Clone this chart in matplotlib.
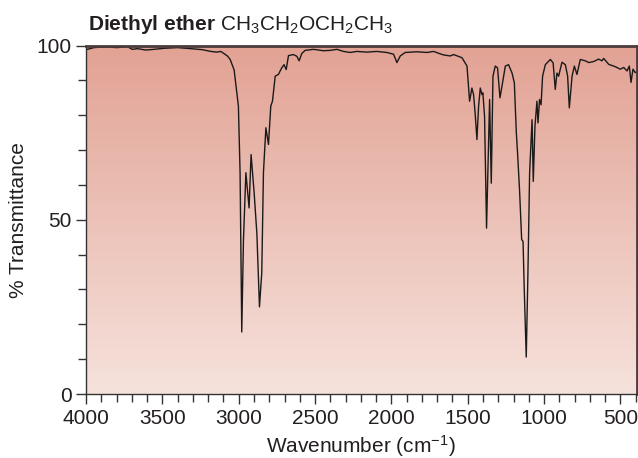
import numpy as np
import matplotlib
matplotlib.use('Agg')
import matplotlib.pyplot as plt
from matplotlib.colors import LinearSegmentedColormap
from matplotlib.ticker import MultipleLocator

# Espectro IR del dietil éter
wavenumber = [4000, 3991, 3948, 3882, 3795, 3729, 3697, 3664, 3609, 3554,
              3489, 3402, 3314, 3238, 3183, 3144, 3117, 3074, 3056, 3030,
              3002, 2991, 2980, 2969, 2953, 2932, 2919, 2899, 2881, 2864,
              2849, 2838, 2822, 2805, 2790, 2779, 2761, 2740, 2718, 2703,
              2689, 2674, 2642, 2619, 2604, 2587, 2565, 2510, 2445, 2401,
              2357, 2314, 2270, 2226, 2161, 2095, 2030, 1986, 1964, 1942,
              1910, 1833, 1767, 1724, 1680, 1659, 1615, 1593, 1538, 1505,
              1488, 1473, 1462, 1451, 1440, 1429, 1418, 1407, 1401, 1390,
              1377, 1357, 1346, 1335, 1320, 1305, 1289, 1276, 1254, 1233,
              1210, 1195, 1182, 1174, 1161, 1147, 1138, 1130, 1117, 1106,
              1095, 1079, 1071, 1060, 1047, 1040, 1030, 1020, 1010, 992,
              959, 941, 927, 916, 905, 883, 861, 846, 835, 817,
              802, 785, 763, 730, 708, 676, 643, 621, 610, 577,
              533, 501, 479, 457, 442, 431, 418, 403, 395]
transmittance = [99.0, 98.9, 99.4, 99.6, 99.4, 99.7, 98.9, 99.1, 98.7, 98.9,
                 99.2, 99.4, 99.1, 98.8, 98.3, 98.1, 98.3, 97.0, 96.0, 93.0,
                 82.6, 63.5, 17.8, 44.0, 63.5, 53.4, 68.7, 57.8, 46.0, 25.0,
                 34.8, 63.5, 76.4, 71.6, 82.6, 84.0, 91.2, 91.7, 93.6, 94.5,
                 93.1, 97.1, 97.4, 96.9, 95.6, 97.7, 98.6, 98.9, 98.5, 98.6,
                 98.9, 98.3, 98.0, 98.3, 98.1, 98.3, 98.0, 97.5, 95.1, 97.0,
                 98.0, 98.2, 98.0, 98.3, 97.6, 97.3, 97.0, 97.4, 96.5, 94.1,
                 84.0, 87.8, 85.9, 80.2, 73.0, 82.6, 87.8, 85.9, 86.4, 79.7,
                 47.6, 84.5, 60.5, 91.2, 94.1, 93.6, 85.0, 88.3, 94.1, 94.5,
                 92.1, 89.3, 75.0, 69.2, 58.6, 44.3, 43.8, 29.9, 10.6, 34.7,
                 63.4, 78.7, 61.0, 76.8, 84.0, 77.8, 84.5, 83.0, 91.2, 94.5,
                 96.0, 95.0, 87.4, 92.1, 91.2, 95.2, 94.5, 91.2, 82.1, 91.2,
                 94.1, 91.7, 96.0, 95.6, 95.1, 95.4, 96.1, 95.6, 96.3, 94.6,
                 93.9, 93.2, 93.7, 92.7, 94.1, 89.4, 93.2, 92.2, 92.4]

x_ticks = [4000, 3500, 3000, 2500, 2000, 1500, 1000, 500]
y_ticks = [0, 50, 100]

plt.rcParams['font.family'] = ['Liberation Sans', 'DejaVu Sans']
plt.rcParams['mathtext.fontset'] = 'custom'
plt.rcParams['mathtext.rm'] = 'Liberation Sans'
plt.rcParams['mathtext.it'] = 'Liberation Sans:italic'
plt.rcParams['mathtext.bf'] = 'Liberation Sans:bold'

texto = '#231f20'
x_min, x_max = 4000, 395

fig = plt.figure(figsize=(6.38, 4.58), dpi=100)
ax = fig.add_axes([86 / 638, 1 - 394 / 458, (636.5 - 86) / 638, (394 - 45.5) / 458])

# Fondo degradado salmón -> rosa claro
degradado = LinearSegmentedColormap.from_list('fondo', ['#f6e2dc', '#e2a294'])
ax.imshow(np.linspace(0, 1, 256).reshape(-1, 1), cmap=degradado, origin='lower',
          extent=(x_min, x_max, 0, 100), aspect='auto', zorder=0)

ax.plot(wavenumber, transmittance, color='#1a1a1a', lw=1.0, zorder=2)

ax.set_xlim(x_min, x_max)
ax.set_ylim(0, 100)
ax.set_xticks(x_ticks)
ax.set_yticks(y_ticks)
ax.xaxis.set_minor_locator(MultipleLocator(100))
ax.yaxis.set_minor_locator(MultipleLocator(10))
ax.tick_params(which='both', direction='out', colors='#333333', width=1.0,
               labelsize=15, labelcolor=texto)
ax.tick_params(which='major', length=7)
ax.tick_params(which='minor', length=6)

for lado in ['top', 'right']:
    ax.spines[lado].set_color('#4a3c3a')
    ax.spines[lado].set_linewidth(2.0)
for lado in ['left', 'bottom']:
    ax.spines[lado].set_color('#333333')
    ax.spines[lado].set_linewidth(1.0)

ax.set_xlabel('Wavenumber (cm$^{\\mathrm{-1}}$)', fontsize=15, color=texto, labelpad=4)
ax.set_ylabel('% Transmittance', fontsize=15, color=texto, labelpad=6)

fig.text(88 / 638, 1 - 29.5 / 458,
         r'$\mathbf{Diethyl\ ether}$ CH$_3$CH$_2$OCH$_2$CH$_3$',
         fontsize=15, color=texto, ha='left', va='baseline')

plt.savefig('out.png', dpi=100)
plt.close(fig)
